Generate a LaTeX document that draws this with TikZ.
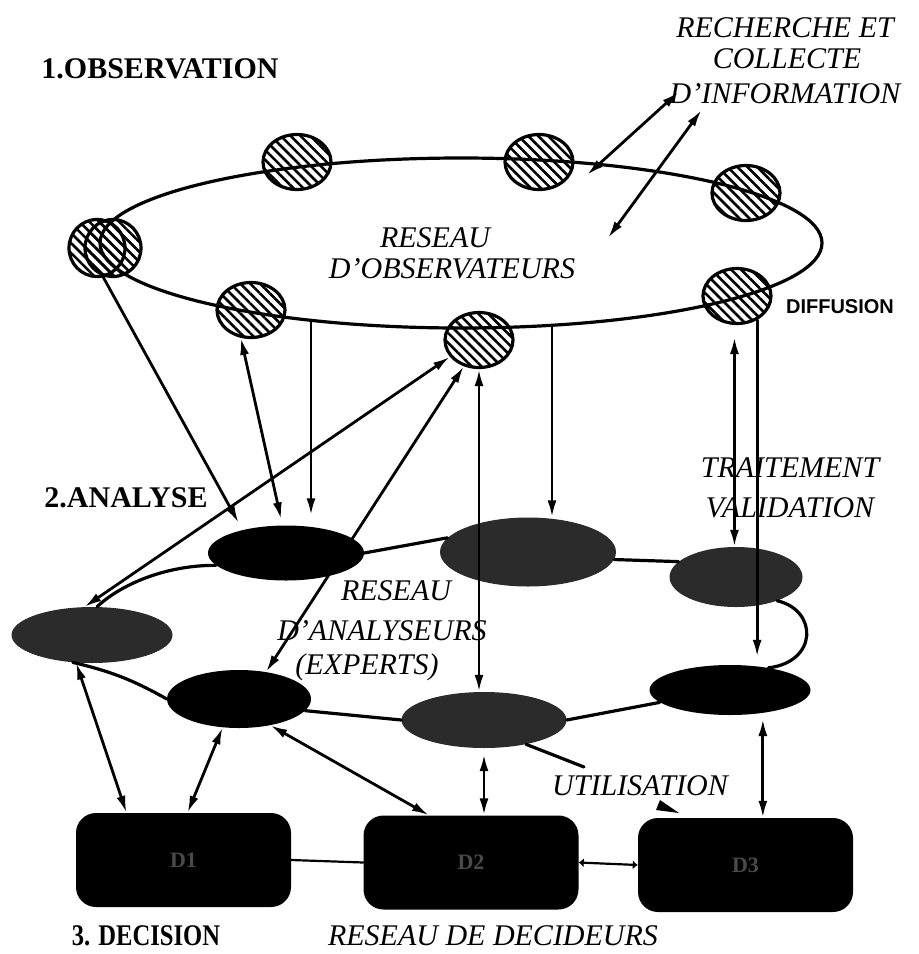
\documentclass[tikz,border=0pt]{standalone}
\usepackage{fontspec}
\usepackage{graphicx}
\setmainfont{Liberation Serif}
\setsansfont{Liberation Sans}
\usetikzlibrary{shapes.geometric,arrows.meta,patterns.meta}
\providecommand{\Ink}{000000}
\providecommand{\Stipple}{2B2B2B}
\providecommand{\Faint}{4A4A4A}
\newcommand{\Unit}{1pt}
\newcommand{\Ring}{3.2pt}
\newcommand{\Shaft}{2.8pt}
\definecolor{ink}{HTML}{\Ink}
\definecolor{stipple}{HTML}{\Stipple}
\definecolor{faint}{HTML}{\Faint}

\tikzset{
  observer/.style={ellipse, draw=ink, line width=\Ring, minimum width=68pt, minimum height=55pt,
    inner sep=0pt, pattern={Lines[angle=-45,distance=7pt,line width=2.6pt]}, pattern color=ink},
  decider/.style={rectangle, rounded corners=20pt, fill=ink, minimum width=215pt, minimum height=94pt,
    text=faint, font=\fontsize{22}{24}\selectfont\bfseries},
  oneway/.style={-{Latex[length=17pt,width=9pt]}, line width=\Shaft},
  twoway/.style={{Latex[length=17pt,width=9pt]}-{Latex[length=17pt,width=9pt]}, line width=\Shaft},
  ringline/.style={line width=\Ring},
  stagelabel/.style={anchor=base, inner sep=0pt, font=\fontsize{30}{32}\selectfont\bfseries},
  netlabel/.style={anchor=base, inner sep=0pt, font=\fontsize{30}{32}\selectfont\itshape},
}

\begin{document}
\begin{tikzpicture}[x=\Unit, y=-\Unit, line join=round, line cap=round]
  \useasboundingbox (0,0) rectangle (919,954);

  % ---- 1. the ring of observers -------------------------------------------
  \node[ellipse, draw=ink, line width=\Ring, minimum width=722pt, minimum height=170pt, inner sep=0pt]
    (obsring) at (461,243) {};
  \node[observer, minimum width=56pt, minimum height=57pt] (o1a) at (97,248) {};
  \node[observer, minimum width=56pt, minimum height=57pt] (o1b) at (113,248) {};
  \foreach \name/\x/\y in {o2/297/162, o3/539/162, o4/746/193, o5/251/310, o6/479/340, o7/737/296}
    \node[observer] (\name) at (\x,\y) {};

  \node[stagelabel] (obslabel) at (160,78) {1.OBSERVATION};
  \node[netlabel] (rech) at (785,37) {RECHERCHE ET};
  \node[netlabel] (coll) at (787,68) {COLLECTE};
  \node[netlabel] (info) at (785,103) {D'INFORMATION};
  \node[netlabel] (obsnet1) at (435,247) {RESEAU};
  \node[netlabel] (obsnet2) at (452,278) {D'OBSERVATEURS};
  \node[anchor=base, inner sep=0pt, font=\fontsize{20}{22}\sffamily\bfseries] (diff) at (840,313) {DIFFUSION};

  % ---- 2. the analysers ---------------------------------------------------
  \foreach \name/\x/\y/\w/\h/\c in {a1/286/553/156/55/ink, a2/528/552/176/69/stipple,
      a3/736/577/133/60/stipple, a4/92/635/161/56/stipple, a5/239/699/144/58/ink,
      a6/484/720/165/56/stipple, a7/730/690/161/50/ink}
    \node[ellipse, fill=\c, minimum width=\w, minimum height=\h, inner sep=0pt] (\name) at (\x,\y) {};

  \draw[ringline] (a1.east) -- (a2.170);
  \draw[ringline] (a2.-5) -- (a3.165);
  \draw[ringline] (a3.-30) .. controls (818,610) and (818,662) .. (a7.30);
  \draw[ringline] (a7.190) -- (a6.east);
  \draw[ringline] (a6.west) -- (a5.-10);
  \draw[ringline] (a5.west) to[bend right=8] (a4.235);
  \draw[ringline] (a4.80) .. controls (120,585) and (165,565) .. (a1.190);

  \node[stagelabel] (anlabel) at (126,507) {2.ANALYSE};
  \node[netlabel] (trait) at (790,477) {TRAITEMENT};
  \node[netlabel] (valid) at (790,517) {VALIDATION};
  \node[netlabel] (annet1) at (396,600) {RESEAU};
  \node[netlabel] (annet2) at (382,640) {D'ANALYSEURS};
  \node[netlabel] (annet3) at (367,674) {(EXPERTS)};

  % ---- 3. the deciders ----------------------------------------------------
  \node[decider] (b1) at (183.5,860) {D1};
  \node[decider] (b2) at (471,862.5) {D2};
  \node[decider] (b3) at (745.5,865) {D3};
  \draw[line width=2.2pt] (b1.east) -- (b2.west);
  \draw[line width=2.2pt, {Latex[length=5pt,width=9pt]}-{Latex[length=5pt,width=9pt]}] (b2.east) -- (b3.west);

  \node[stagelabel] (declabel) at (146,945) {\scalebox{0.82}[1]{3. DECISION}};
  \node[netlabel] (decnet) at (493,945) {RESEAU DE DECIDEURS};
  \node[netlabel] (util) at (640,795) {UTILISATION};

  % ---- flows between the levels -------------------------------------------
  \coordinate (q1) at (587,175);
  \coordinate (q2) at (608,238);
  \draw[twoway] (q1) -- ([xshift=9pt,yshift=11pt]info.base west);
  \draw[twoway] (q2) -- ([xshift=32pt,yshift=-7pt]info.base west);

  \coordinate (r1) at (311,320);
  \coordinate (r2) at (552,325);
  \draw[oneway] (o1b.250) -- ([yshift=8pt]a1.155);
  \draw[twoway] (o5.250) -- ([yshift=6pt]a1.100);
  \draw[oneway, shorten >=10pt] (r1) -- (r1 |- a1.north);
  \draw[twoway] (o6.210) -- (a4.105);
  \draw[twoway] (o6.240) -- (a5.45);
  \draw[twoway] (o6.south) -- (o6.south |- a6.north);
  \draw[oneway] (r2) -- (r2 |- a2.north);
  \draw[twoway, shorten <=12pt] (o7.265) -- (o7.265 |- a3.north);
  \draw[oneway, shorten >=8pt] (o7.-50) -- (o7.-50 |- a7.north);

  \draw[twoway] (a4.240) -- ([xshift=-57pt]b1.north);
  \draw[twoway] (a5.240) -- ([xshift=4pt]b1.north);
  \draw[twoway] (a5.-40) -- ([xshift=-42pt]b2.north);
  \draw[twoway, shorten <=6pt] (a6.south) -- (a6.south |- b2.north);
  \draw[twoway, shorten <=6pt] (a7.-35) -- (a7.-35 |- b3.north);

  \coordinate (u1) at (584,767);
  \draw[ringline] (a6.-30) -- (u1);
  \fill[ink] (660,800) -- (656,810) -- (679,813) -- cycle;

\end{tikzpicture}
\end{document}
